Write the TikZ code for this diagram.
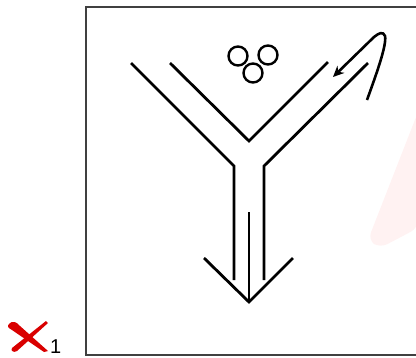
\documentclass[tikz,border=0pt]{standalone}
\usepackage{fontspec}
\setmainfont{Liberation Sans}
\usetikzlibrary{arrows.meta}
\begin{document}
\begin{tikzpicture}[x=1pt,y=-1pt,
  yline/.style={line width=2.8pt,line cap=butt,line join=miter},
  frame/.style={draw=black!75,line width=2pt},
  ring/.style={draw,line width=2.4pt}]
\useasboundingbox (0,0) rectangle (416,357);
% faint pink watermark
\fill[red!5,rounded corners=8pt] (418,112) -- (368,240) -- (380,248) -- (418,228) -- cycle;
% frame (right edge clipped)
\begin{scope}
\clip (0,0) rectangle (416,357);
\draw[frame] (86,7) rectangle (424,355);
\end{scope}
% Y outer lines
\draw[yline] (131,63) -- (234,166) -- (234,280);
\draw[yline] (368,63) -- (264,166) -- (264,280);
% inner V
\draw[yline] (170,63) -- (249,141) -- (328,62);
% shaft and arrowhead
\draw[yline] (249,212) -- (249,302);
\draw[yline] (204,258) -- (249,302) -- (293,258);
% rings
\draw[ring] (238,56) circle (9.5);
\draw[ring] (268,55) circle (9.5);
\draw[ring] (253,73) circle (9.5);
% curved arrow
\draw[line width=2.6pt,-{Stealth[length=11pt,width=10pt]}]
  (367,100) .. controls (376,75) and (387,45) .. (385,36)
  .. controls (383,31) and (379,33) .. (374,37) -- (333,77);
% red X
\fill[red!85!black] (9,324) .. controls (12,320) and (17,322) .. (20,326)
  -- (48,351) -- (44,352) -- (12,330) .. controls (8,328) and (7,326) .. (9,324) -- cycle;
\fill[red!85!black] (46,321) -- (48,323) -- (17,351) .. controls (14,353) and (10,351) .. (12,348) -- cycle;
\node[font=\fontsize{20}{21}\selectfont,anchor=base west,inner sep=0pt] (sub) at (50,353) {1};
\end{tikzpicture}
\end{document}
